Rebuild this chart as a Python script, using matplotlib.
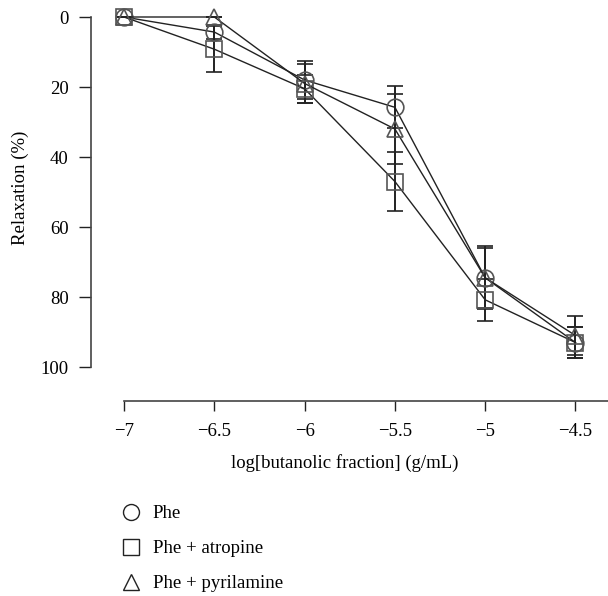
import matplotlib
matplotlib.use("Agg")
from matplotlib import pyplot as plt
from matplotlib.lines import Line2D

plt.rcParams['font.family'] = ['Liberation Serif', 'DejaVu Serif']
plt.rcParams['font.size'] = 13.5

# concentrations (log g/mL)
conc = [-7, -6.5, -6, -5.5, -5, -4.5]

# relaxation (%) and error bars
phe = [0, 4.3, 18, 25.8, 74.5, 93]
phe_err = [0, 2, 5.4, 6, 9, 4.5]
atropine = [0, 9.2, 20.5, 47, 80.8, 93]
atropine_err = [0, 6.6, 4, 8.3, 6, 4.5]
pyrilamine = [0, 0, 19, 32, 74.5, 91]
pyrilamine_err = [0, 0, 5.6, 10, 8.5, 5.5]

labels = ["Phe", "Phe + atropine", "Phe + pyrilamine"]
markers = ["o", "s", "^"]

fig = plt.figure(figsize=(6.08, 5.96), dpi=100)
ax = fig.add_axes([91 / 608, 1 - 401 / 596, 517 / 608, 384 / 596])

series = [(phe, phe_err), (atropine, atropine_err), (pyrilamine, pyrilamine_err)]
for (vals, errs), m in zip(series, markers):
    ax.errorbar(conc, vals, yerr=errs, color='#222222', lw=1.0,
                elinewidth=1.4, capsize=6, capthick=1.6,
                marker=m, ms=12, mfc='none', mec='#555555', mew=1.2,
                clip_on=False, zorder=3)

ax.set_xlim(-7.183, -4.32)
ax.set_ylim(109.7, 0)
ax.set_yticks([0, 20, 40, 60, 80, 100])
ax.set_xticks(conc)
ax.set_xticklabels(["\u22127", "\u22126.5", "\u22126", "\u22125.5", "\u22125", "\u22124.5"])

for s in ['top', 'right']:
    ax.spines[s].set_visible(False)
ax.spines['left'].set_bounds(0, 100)
ax.spines['bottom'].set_bounds(-7, -4.32)
for s in ['left', 'bottom']:
    ax.spines[s].set_color('#444444')
    ax.spines[s].set_linewidth(1.2)
ax.tick_params(axis='both', direction='out', width=1.0, color='#222222', labelsize=13.5)
ax.tick_params(axis='x', length=7, pad=9)
ax.tick_params(axis='y', length=9, pad=7)

ax.set_ylabel("Relaxation (%)", fontsize=13.5)
ax.yaxis.set_label_coords(-0.12, 0.556)
ax.set_xlabel("log[butanolic fraction] (g/mL)", fontsize=13.5)
ax.xaxis.set_label_coords(0.491, -0.138)

handles = [Line2D([], [], ls='none', marker=m, ms=11.5, mfc='none', mec='#222222', mew=1.0)
           for m in markers]
fig.legend(handles, labels, loc='upper left', bbox_to_anchor=(122 / 608, 1 - 505 / 596),
           frameon=False, fontsize=13.5, handlelength=1.0, handletextpad=0.65,
           labelspacing=0.96, borderpad=0, borderaxespad=0)

fig.savefig("out.png", dpi=100)
